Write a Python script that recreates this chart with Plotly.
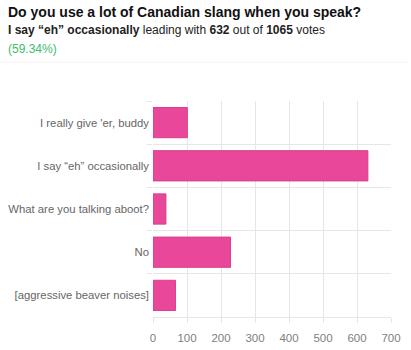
import plotly.graph_objects as go

categories = ["I really give 'er, buddy", "I say “eh” occasionally", "What are you talking aboot?", "No", "[aggressive beaver noises]"]
votes = [101, 632, 38, 228, 66]
x_ticks = [0, 100, 200, 300, 400, 500, 600, 700]

W, H = 411, 350
L, R, T, B = 153, 20, 101, 33
pw, ph = W - L - R, H - T - B

def px(x):
    return (x - L) / pw

def py(y):
    return (H - B - y) / ph

fig = go.Figure(go.Bar(
    x=votes, y=categories, orientation="h",
    marker=dict(color="#E9489A", line=dict(color="#D83E8B", width=1)),
    width=0.7,
))

font = "'Liberation Sans', Arial, sans-serif"
fig.update_layout(
    width=W, height=H, margin=dict(l=L, r=R, t=T, b=B, autoexpand=False),
    paper_bgcolor="white", plot_bgcolor="white", showlegend=False,
    font=dict(family=font, color="#666"),
    xaxis=dict(range=[0, 700], tickvals=x_ticks, showgrid=True, gridcolor="#e6e6e6",
               gridwidth=1, zeroline=False, ticks="outside", ticklen=5, tickcolor="#e6e6e6",
               tickfont=dict(size=11.5, color="#808080"), showline=True, linecolor="#e6e6e6",
               fixedrange=True, automargin=False, ticklabelstandoff=5),
    yaxis=dict(autorange="reversed", tickson="boundaries", showgrid=True, gridcolor="#e6e6e6",
               ticks="outside", ticklen=5, tickcolor="#e6e6e6", tickfont=dict(size=11.3, color="#666"),
               showline=False, fixedrange=True, automargin=False, ticklabelstandoff=3),
    annotations=[
        dict(text="<b>Do you use a lot of Canadian slang when you speak?</b>", xref="paper", yref="paper",
             x=px(6), y=py(12), xanchor="left", yanchor="middle", showarrow=False,
             font=dict(size=14, color="#111", family=font)),
        dict(text="<b>I say “eh” occasionally</b> leading with <b>632</b> out of <b>1065</b> votes",
             xref="paper", yref="paper", x=px(6), y=py(30), xanchor="left", yanchor="middle",
             showarrow=False, font=dict(size=12, color="#222", family=font)),
        dict(text="(59.34%)", xref="paper", yref="paper", x=px(6), y=py(49), xanchor="left",
             yanchor="middle", showarrow=False, font=dict(size=12, color="#3DBE6B", family=font)),
    ],
    shapes=[dict(type="line", xref="paper", yref="paper", x0=px(0), x1=px(408), y0=py(62), y1=py(62),
                 line=dict(color="#f2f2f2", width=1))],
)

fig.write_html("out.html")
